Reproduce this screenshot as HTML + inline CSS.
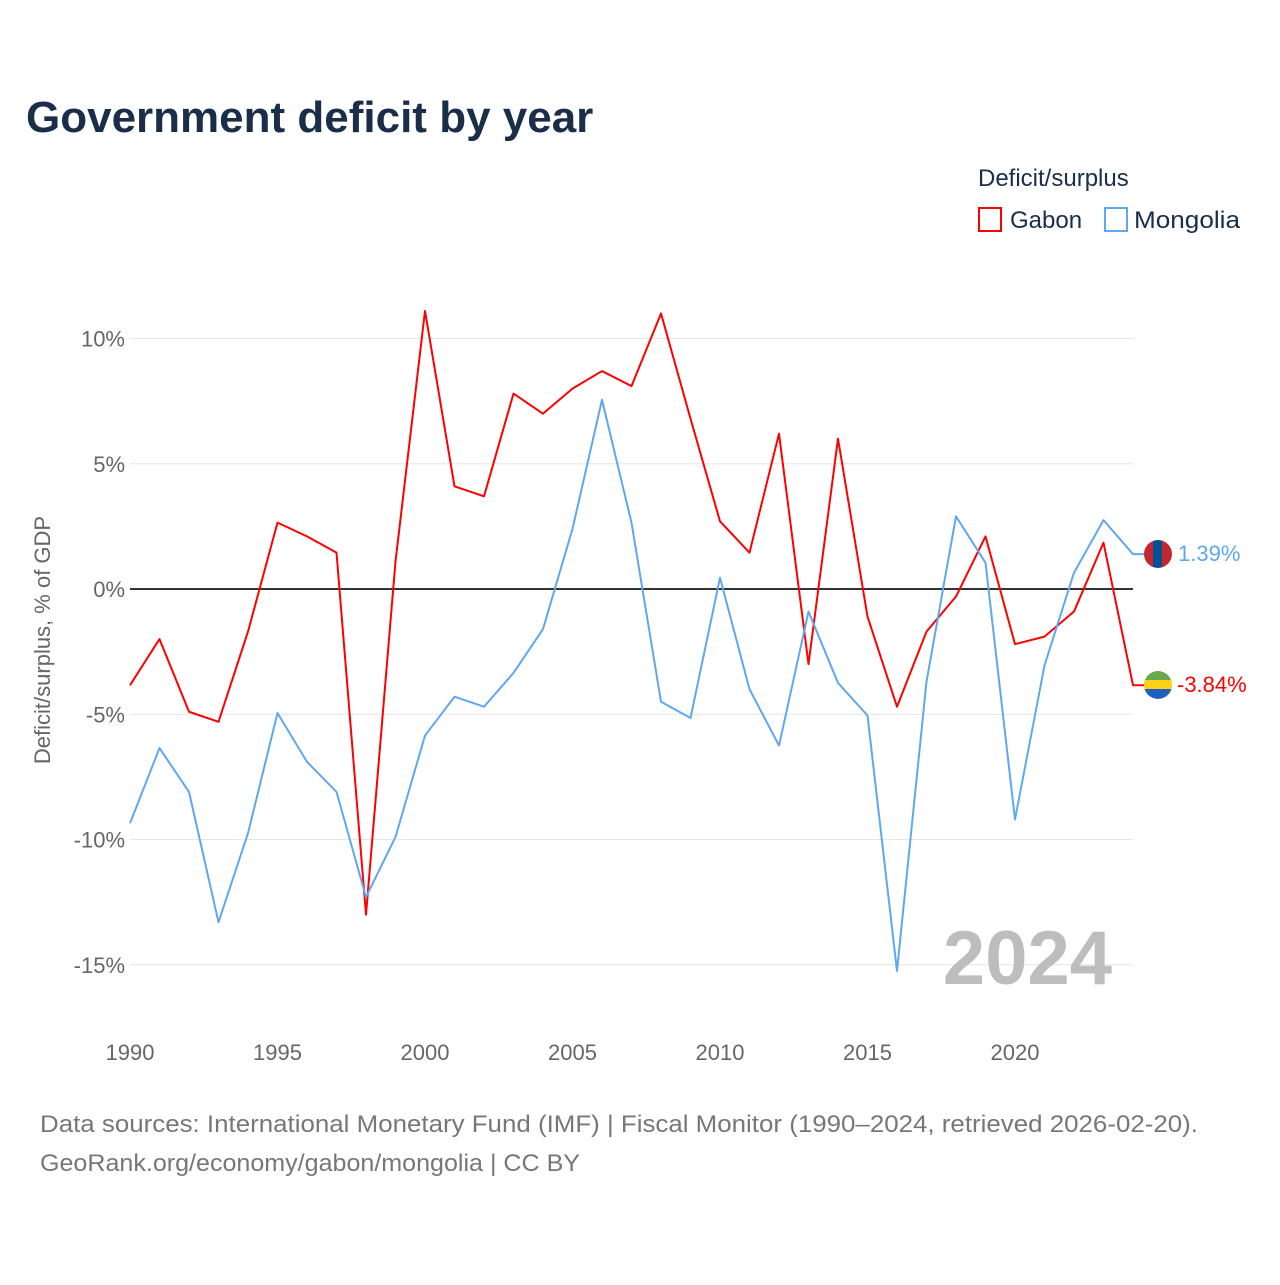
<!DOCTYPE html>
<html><head><meta charset="utf-8">
<style>
body{margin:0;background:#fff;width:1280px;height:1280px;overflow:hidden;font-family:"Liberation Sans",sans-serif}
</style></head>
<body>
<svg id="chart" width="1280" height="1280" xmlns="http://www.w3.org/2000/svg" font-family="Liberation Sans, sans-serif">
<text x="26" y="132" font-size="44" font-weight="bold" fill="#1a2e4a">Government deficit by year</text>
<text x="978" y="186" font-size="24" fill="#1a2e4a">Deficit/surplus</text>
<g><rect x="979" y="208" width="22" height="23" fill="none" stroke="#ff0000" stroke-width="2"/><text x="1010" y="228" font-size="24" fill="#1a2e4a">Gabon</text></g>
<g><rect x="1105" y="208" width="22" height="23" fill="none" stroke="#5fa8ee" stroke-width="2"/><text x="1134" y="228" font-size="24" fill="#1a2e4a" textLength="106" lengthAdjust="spacingAndGlyphs">Mongolia</text></g>
<text transform="translate(50,640) rotate(-90)" text-anchor="middle" font-size="22" fill="#666">Deficit/surplus, % of GDP</text>
<g id="grid"></g><g id="series"></g>
<text x="1112" y="984" text-anchor="end" font-size="76" font-weight="bold" fill="#bdbdbd">2024</text>
<g>
<clipPath id="cm"><circle cx="1158" cy="554" r="14"/></clipPath>
<g clip-path="url(#cm)"><rect x="1144" y="540" width="10" height="28" fill="#c4272f"/><rect x="1153" y="540" width="10" height="28" fill="#015197"/><rect x="1162" y="540" width="10" height="28" fill="#c4272f"/></g></g>
<g>
<clipPath id="cg"><circle cx="1158" cy="685" r="14"/></clipPath>
<g clip-path="url(#cg)"><rect x="1144" y="671" width="28" height="10" fill="#6aa84f"/><rect x="1144" y="680" width="28" height="10" fill="#fcd116"/><rect x="1144" y="689" width="28" height="10" fill="#1f5fbf"/></g></g>
<text x="1178" y="561" font-size="22" fill="#5fa8ee">1.39%</text>
<text x="1177" y="692" font-size="22" fill="#ff0000">-3.84%</text>
<text x="40" y="1132" font-size="24" fill="#777" textLength="1158" lengthAdjust="spacingAndGlyphs">Data sources: International Monetary Fund (IMF) | Fiscal Monitor (1990–2024, retrieved 2026-02-20).</text>
<text x="40" y="1171" font-size="24" fill="#777" textLength="540" lengthAdjust="spacingAndGlyphs">GeoRank.org/economy/gabon/mongolia | CC BY</text>
</svg>
<script>
const years=[];for(let y=1990;y<=2024;y++)years.push(y);
const gabon=[-3.84,-2.0,-4.9,-5.3,-1.7,2.65,2.1,1.45,-13.0,1.1,11.1,4.1,3.7,7.8,7.0,8.0,8.7,8.1,11.0,6.8,2.7,1.45,6.2,-3.0,6.0,-1.1,-4.7,-1.7,-0.3,2.1,-2.2,-1.9,-0.9,1.85,-3.84];
const mongolia=[-9.35,-6.35,-8.1,-13.3,-9.75,-4.95,-6.9,-8.1,-12.3,-9.9,-5.85,-4.3,-4.7,-3.35,-1.6,2.4,7.55,2.65,-4.5,-5.15,0.45,-4.0,-6.25,-0.9,-3.75,-5.05,-15.25,-3.7,2.9,1.05,-9.2,-3.05,0.65,2.75,1.39];
const yTicks=[10,5,0,-5,-10,-15];
const xTicks=[1990,1995,2000,2005,2010,2015,2020];
const X=y=>130+(y-1990)*29.5, Y=v=>589-v*25.05;
const NS="http://www.w3.org/2000/svg";
function mk(t,a,p){const e=document.createElementNS(NS,t);for(const k in a)e.setAttribute(k,a[k]);p.appendChild(e);return e;}
const grid=document.getElementById('grid');
yTicks.forEach(v=>{
 const l=mk('line',{x1:130,x2:1133,y1:Y(v),y2:Y(v),stroke:v===0?'#333':'#e6e6e6','stroke-width':v===0?2:1},grid);
 
 
 const t=mk('text',{x:125,y:Y(v)+8,'text-anchor':'end','font-size':22,fill:'#666'},grid);t.textContent=v+'%';
 
 
});
xTicks.forEach(v=>{
 const t=mk('text',{x:X(v),y:1060,'text-anchor':'middle','font-size':22,fill:'#666'},grid);t.textContent=v;
 
 
});
const s=document.getElementById('series');
[[gabon,'#ff0000','gabon-line'],[mongolia,'#5fa8ee','mongolia-line']].forEach(([d,c,n])=>{
 let pts=d.map((v,i)=>X(years[i])+','+Y(v));
 pts.push((X(2024)+12)+','+Y(d[d.length-1]));
 const p=mk('polyline',{points:pts.join(' '),fill:'none',stroke:c,'stroke-width':2,'stroke-linejoin':'round'},s);
 
 
});
</script>
</body></html>
